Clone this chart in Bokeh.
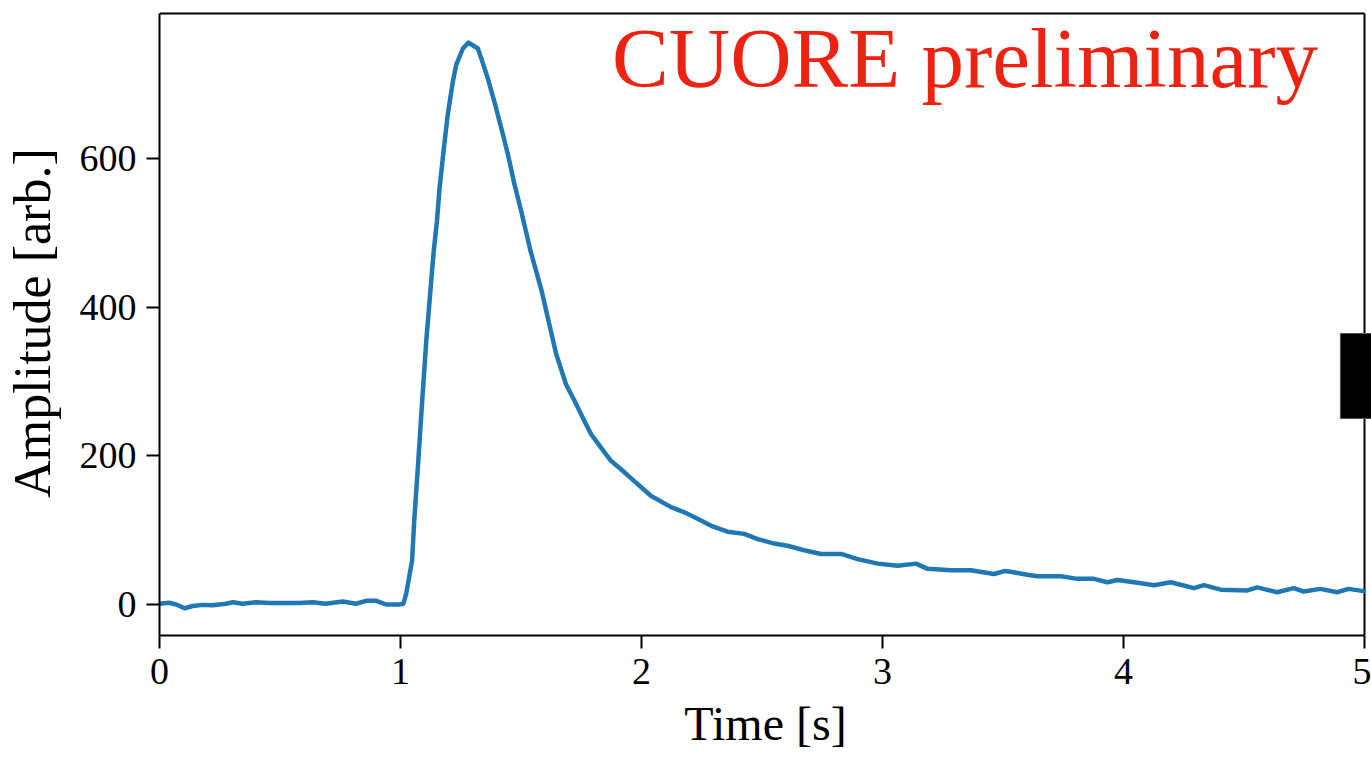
from bokeh.plotting import figure
from bokeh.models import (Range1d, FixedTicker, Label, BoxAnnotation,
                          LinearAxis, ColumnDataSource)
from bokeh.embed import file_html
from bokeh.resources import INLINE

# Bolometer pulse: time [s] and amplitude [arb.]
time_s = [0.00, 0.04, 0.07, 0.104, 0.138, 0.18, 0.22, 0.276, 0.304, 0.345,
          0.40, 0.456, 0.511, 0.58, 0.635, 0.69, 0.76, 0.815, 0.857, 0.90,
          0.94, 0.994, 1.012, 1.024, 1.038, 1.048, 1.057, 1.074, 1.090, 1.107,
          1.124, 1.138, 1.151, 1.162, 1.180, 1.196, 1.217, 1.231, 1.259, 1.282,
          1.321, 1.335, 1.362, 1.390, 1.418, 1.446, 1.473, 1.501, 1.54, 1.584,
          1.611, 1.646, 1.687, 1.722, 1.763, 1.791, 1.832, 1.874, 1.915, 1.970,
          2.040, 2.123, 2.178, 2.247, 2.295, 2.357, 2.426, 2.482, 2.551, 2.606,
          2.675, 2.745, 2.828, 2.897, 2.980, 3.063, 3.139, 3.187, 3.284, 3.366,
          3.463, 3.505, 3.532, 3.601, 3.643, 3.740, 3.809, 3.878, 3.933, 3.975,
          4.044, 4.127, 4.196, 4.292, 4.334, 4.403, 4.514, 4.555, 4.638, 4.706,
          4.748, 4.817, 4.886, 4.934, 4.996]
amplitude = [1, 2.3, 0, -5, -2, -0.5, -1, 1, 3, 1,
             3, 2, 2, 2, 3, 1, 4, 1, 5, 5,
             0, 0, 1, 15, 41, 59, 113, 194, 274, 355,
             422, 476, 515, 560, 614, 659, 703, 726, 748, 756,
             748, 735, 708, 676, 641, 605, 565, 529, 475, 424,
             386, 337, 296, 274, 247, 229, 211, 193, 182, 166,
             146, 131, 124, 113, 105, 98, 95, 88, 82, 79,
             73, 68, 68, 61, 55, 52, 55, 48, 46, 46,
             41, 45, 44, 40, 38, 38, 34.5, 34.5, 30, 33,
             30, 26, 30, 22, 26, 20, 19, 23, 16.5, 22,
             17.5, 21, 16.5, 21, 18]

x_ticks = [0, 1, 2, 3, 4, 5]
y_ticks = [0, 200, 400, 600]

x_lo, x_hi = 0.0, 5.0
y_lo, y_hi = -41.7, 795.1

# dark box sitting on the right edge of the axes
box_left, box_bottom, box_top = 4.90, 250.2, 364.6

SERIF = "Liberation Serif"

W, H = 1371, 765
left_px, right_px = 158, 1364
px_per_x = (right_px - left_px) / (x_hi - x_lo)
frame_w = W - left_px
x_end = x_lo + frame_w / px_per_x

top_pad = 3
frame_top = 13 - top_pad
frame_bottom = 635
px_per_y = (635 - 13) / (y_hi - y_lo)
y_end = y_hi + top_pad / px_per_y

p = figure(width=W, height=H, output_backend="svg", toolbar_location=None,
           x_range=Range1d(x_lo, x_end), y_range=Range1d(y_lo, y_end),
           min_border_left=left_px, min_border_right=0,
           min_border_top=frame_top, min_border_bottom=H - frame_bottom,
           x_axis_location=None, y_axis_location=None)
p.outline_line_color = None
p.grid.visible = False
p.background_fill_color = "white"
p.border_fill_color = "white"

def style_axis(ax, label_size):
    ax.axis_line_width = 2
    ax.axis_line_color = "black"
    ax.major_tick_line_width = 2
    ax.major_tick_line_color = "black"
    ax.major_tick_out = 13
    ax.major_tick_in = 0
    ax.minor_tick_line_color = None
    ax.major_label_text_font = SERIF
    ax.major_label_text_font_size = "38px"
    ax.major_label_text_color = "black"
    ax.axis_label_text_font = SERIF
    ax.axis_label_text_font_size = label_size
    ax.axis_label_text_font_style = "normal"
    ax.axis_label_text_color = "black"

xa = LinearAxis(ticker=FixedTicker(ticks=x_ticks), bounds=(x_lo, x_hi),
                axis_label="Time [s]")
style_axis(xa, "48px")
xa.major_label_standoff = 10
xa.axis_label_standoff = 10
p.add_layout(xa, "below")

ya = LinearAxis(ticker=FixedTicker(ticks=y_ticks), bounds=(y_lo, y_hi),
                axis_label="Amplitude [arb.]")
style_axis(ya, "52px")
ya.major_label_standoff = 10
ya.axis_label_standoff = 16
p.add_layout(ya, "left")

# top and right spines
p.segment(x0=[x_lo], y0=[y_hi], x1=[x_hi], y1=[y_hi],
          line_color="black", line_width=2)
p.segment(x0=[x_hi], y0=[y_lo], x1=[x_hi], y1=[y_hi],
          line_color="black", line_width=2)

src = ColumnDataSource(data=dict(t=time_s, a=amplitude))
p.line("t", "a", source=src, line_color="#1f77b4", line_width=4.5,
       line_join="round", line_cap="round")

p.add_layout(BoxAnnotation(left=box_left, bottom=box_bottom, top=box_top,
                           fill_color="black", fill_alpha=1.0,
                           line_color="#555555", line_width=1, line_alpha=1.0))

p.add_layout(Label(x=1.878, y=735.5, text="CUORE preliminary",
                   text_font=SERIF, text_font_size="85px",
                   text_color="#ee2211", text_align="left",
                   text_baseline="alphabetic"))

open("out.html", "w").write(file_html(p, INLINE))
